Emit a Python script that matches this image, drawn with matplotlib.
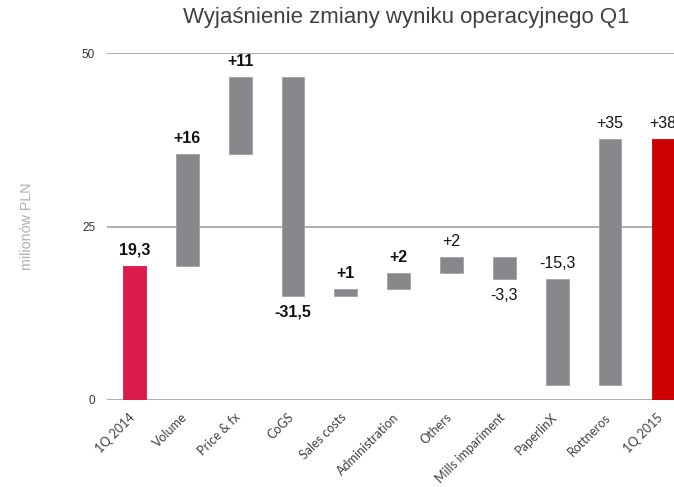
import matplotlib
matplotlib.use("Agg")
import matplotlib.pyplot as plt
from matplotlib.transforms import ScaledTranslation

categories = ["1Q 2014", "Volume", "Price & fx", "CoGS", "Sales costs", "Administration",
              "Others", "Mills impariment", "PaperlinX", "Rottneros", "1Q 2015"]
bar_bottoms = [0.0, 19.3, 35.4, 15.0, 15.0, 16.0, 18.3, 17.4, 2.2, 2.2, 0.0]
bar_tops = [19.3, 35.4, 46.5, 46.5, 16.0, 18.3, 20.6, 20.6, 17.4, 37.6, 37.6]
value_labels = ["19,3", "+16", "+11", "-31,5", "+1", "+2", "+2", "-3,3", "-15,3", "+35", "+38"]
label_below = [False, False, False, True, False, False, False, True, False, False, False]
label_bold = [True, True, True, True, True, True, False, False, False, False, False]
y_ticks = [0, 25, 50]

colors = ["#DD1A4C"] + ["#87888B"] * 9 + ["#CC0000"]

fig = plt.figure(figsize=(6.74, 4.87), dpi=100)
ax = fig.add_axes([107 / 674, 87 / 487, 1 - 107 / 674, (400 - 53) / 487])

x = list(range(len(categories)))
heights = [t - b for t, b in zip(bar_tops, bar_bottoms)]
ax.bar(x, heights, bottom=bar_bottoms, width=0.43, color=colors, zorder=3,
       edgecolor=["#DD1A4C"] + ["#A0A1A4"] * 9 + ["#CC0000"], linewidth=0.6)

lab_font = ["Liberation Sans Narrow", "Liberation Sans"]
for xi, t, b, lab, below, bold in zip(x, bar_tops, bar_bottoms, value_labels, label_below, label_bold):
    if below:
        ax.annotate(lab, (xi, b), xytext=(0, -6), textcoords="offset points",
                    ha="center", va="top", fontsize=11.5,
                    fontweight="bold" if bold else "normal",
                    family=lab_font, color="#111111", annotation_clip=False)
    else:
        ax.annotate(lab, (xi, t), xytext=(0, 6), textcoords="offset points",
                    ha="center", va="bottom", fontsize=11.5,
                    fontweight="bold" if bold else "normal",
                    family=lab_font, color="#111111", annotation_clip=False)

ax.set_xlim(-0.52, 10.21)
ax.set_ylim(0, 50)
ax.set_yticks(y_ticks)
ax.set_yticklabels([str(v) for v in y_ticks], fontsize=8.5, color="#333333", family=lab_font)
ax.yaxis.grid(True, color="#A8A8A8", linewidth=1.3, zorder=0)
ax.set_axisbelow(True)
ax.tick_params(axis="y", length=0, pad=8.5)
ax.tick_params(axis="x", length=0, pad=8)
ax.set_xticks(x)
ax.set_xticklabels(categories, rotation=45, ha="right", va="top", rotation_mode="anchor",
                   fontsize=9, color="#404040", family=["Lato", "DejaVu Sans"])
shift = ScaledTranslation(-6 / 100, 0, fig.dpi_scale_trans)
for lbl in ax.get_xticklabels():
    lbl.set_transform(lbl.get_transform() + shift)
for s in ax.spines.values():
    s.set_visible(False)

fig.text(27 / 674, 1 - 226 / 487, "milionów PLN", rotation=90, ha="center", va="center",
         fontsize=10.3, color="#B0B0B0", family=["Liberation Sans", "DejaVu Sans"])
fig.text(406 / 674, 1 - 18 / 487, "Wyjaśnienie zmiany wyniku operacyjnego Q1",
         ha="center", va="center", fontsize=16, color="#404040",
         family=["Liberation Sans", "DejaVu Sans"])

fig.savefig("out.png", dpi=100)
